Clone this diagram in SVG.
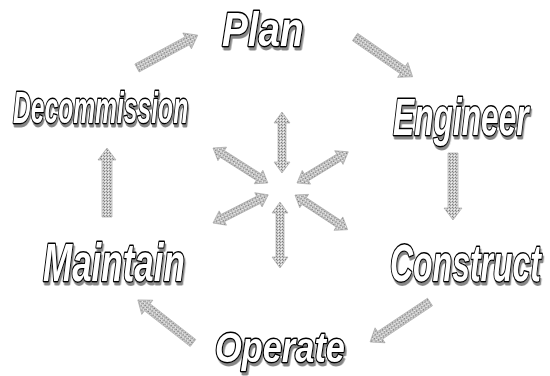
<svg xmlns="http://www.w3.org/2000/svg" width="550" height="376" viewBox="0 0 550 376">
  <defs>
    <pattern id="stipple" width="3" height="3" patternUnits="userSpaceOnUse">
      <rect width="3" height="3" fill="#cccccc"/>
      <rect x="0" y="0" width="1" height="1" fill="#7a7a7a"/>
      <rect x="2" y="1" width="1" height="1" fill="#f2f2f2"/>
      <rect x="1" y="2" width="1" height="1" fill="#909090"/>
    </pattern>
    <filter id="shadow" x="-10%" y="-20%" width="130%" height="150%">
      <feDropShadow dx="2" dy="3" stdDeviation="0.6" flood-color="#555" flood-opacity="0.7"/>
    </filter>
  </defs>
  <style>
    .label { font-family: "Liberation Sans", Arial, sans-serif;
             font-weight: bold; font-style: italic; fill: #ffffff; stroke: #000000; stroke-width: 2.8;
             paint-order: stroke; stroke-linejoin: round; filter: url(#shadow); }
    .arrow { fill: url(#stipple); stroke: #a0a0a0; stroke-width: 0.6; }
  </style>

  <rect width="550" height="376" fill="#ffffff"/>

  <!-- cycle arrows and central star -->
  <g id="connectors">
    <!-- Decommission -> Plan -->
    <g transform="translate(137,68) rotate(-28.4)">
      <polygon class="arrow" points="0,-4.5 57,-4.5 57,-9 69,0 57,9 57,4.5 0,4.5"/>
    </g>
    <!-- Plan -> Engineer -->
    <g transform="translate(355,37) rotate(34.6)">
      <polygon class="arrow" points="0,-4.5 58,-4.5 58,-9 70,0 58,9 58,4.5 0,4.5"/>
    </g>
    <!-- Engineer -> Construct -->
    <g transform="translate(453,153) rotate(90)">
      <polygon class="arrow" points="0,-5 55,-5 55,-9 67,0 55,9 55,5 0,5"/>
    </g>
    <!-- Construct -> Operate -->
    <g transform="translate(430,302) rotate(146.3)">
      <polygon class="arrow" points="0,-4.5 60,-4.5 60,-9 72,0 60,9 60,4.5 0,4.5"/>
    </g>
    <!-- Operate -> Maintain -->
    <g transform="translate(193,343) rotate(-142)">
      <polygon class="arrow" points="0,-4.5 58,-4.5 58,-9 70,0 58,9 58,4.5 0,4.5"/>
    </g>
    <!-- Maintain -> Decommission -->
    <g transform="translate(107,217) rotate(-90)">
      <polygon class="arrow" points="0,-5 57,-5 57,-9 69,0 57,9 57,5 0,5"/>
    </g>

    <!-- central star of double-headed arrows -->
    <g transform="translate(282,112) rotate(90)">
      <polygon class="arrow" points="0,0 11,-8 11,-4 50,-4 50,-8 61,0 50,8 50,4 11,4 11,8"/>
    </g>
    <g transform="translate(280,202) rotate(90)">
      <polygon class="arrow" points="0,0 11,-8 11,-4 55,-4 55,-8 66,0 55,8 55,4 11,4 11,8"/>
    </g>
    <g transform="translate(213,148) rotate(32.5)">
      <polygon class="arrow" points="0,0 11,-8 11,-4 54,-4 54,-8 65,0 54,8 54,4 11,4 11,8"/>
    </g>
    <g transform="translate(297,183) rotate(-31.3)">
      <polygon class="arrow" points="0,0 11,-8 11,-4 49,-4 49,-8 60,0 49,8 49,4 11,4 11,8"/>
    </g>
    <g transform="translate(213,223) rotate(-27)">
      <polygon class="arrow" points="0,0 11,-8 11,-4 51,-4 51,-8 62,0 51,8 51,4 11,4 11,8"/>
    </g>
    <g transform="translate(295,195) rotate(33.4)">
      <polygon class="arrow" points="0,0 11,-8 11,-4 52,-4 52,-8 63,0 52,8 52,4 11,4 11,8"/>
    </g>
  </g>

  <!-- stage labels, drawn narrow by a horizontal scale -->
  <g id="plan" transform="translate(222,46) scale(0.79,1)">
    <text class="label" x="0" y="0" font-size="49">Plan</text>
  </g>
  <g id="engineer" transform="translate(393,135) scale(0.61,1)">
    <text class="label" x="0" y="0" font-size="52">Engineer</text>
  </g>
  <g id="construct" transform="translate(390,281) scale(0.615,1)">
    <text class="label" x="0" y="0" font-size="52">Construct</text>
  </g>
  <g id="operate" transform="translate(215,362) scale(0.8,1)">
    <text class="label" x="0" y="0" font-size="43">Operate</text>
  </g>
  <g id="maintain" transform="translate(43,281) scale(0.66,1)">
    <text class="label" x="0" y="0" font-size="53">Maintain</text>
  </g>
  <g id="decommission" transform="translate(13,123) scale(0.56,1)">
    <text class="label" x="0" y="0" font-size="44">Decommission</text>
  </g>
</svg>
